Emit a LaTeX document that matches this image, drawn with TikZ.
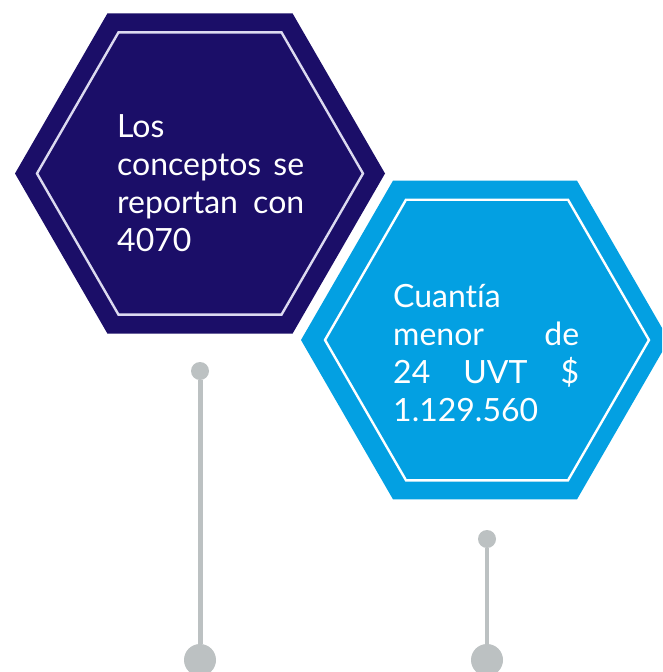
\documentclass[tikz,border=0pt]{standalone}
\usepackage{fontspec}
\setmainfont{Lato}[Ligatures=NoCommon]
\usetikzlibrary{shapes.geometric}
\definecolor{navyhex}{RGB}{27,14,104}
\definecolor{bluehex}{RGB}{3,160,226}
\definecolor{pingray}{RGB}{188,193,194}
\definecolor{lineA}{RGB}{220,218,240}
\tikzset{
  hexfill/.style={regular polygon, regular polygon sides=6, inner sep=0pt, outer sep=0pt, draw=none},
  hexline/.style={regular polygon, regular polygon sides=6, inner sep=0pt, outer sep=0pt, line width=2.4pt},
  hextext/.style={text=white, text width=187pt, align=left, inner sep=0pt, anchor=north west,
                  font=\fontsize{32}{38}\selectfont},
  pinsmall/.style={circle, fill=pingray, minimum size=18pt, inner sep=0pt, outer sep=0pt},
  pinbig/.style={circle, fill=pingray, minimum size=32pt, inner sep=0pt, outer sep=0pt},
  pinline/.style={draw=pingray}
}
\begin{document}
\begin{tikzpicture}[x=1pt,y=-1pt]
\clip (0,0) rectangle (662,672);
\fill[white] (0,0) rectangle (662,672);
% left hexagon
\node[hexfill, fill=navyhex, minimum size=370pt] (hexA) at (200,173.5) {};
\node[hexline, draw=lineA, minimum size=326pt] (hexAin) at (200,173.5) {};
% right hexagon
\node[hexfill, fill=bluehex, minimum size=368pt] (hexB) at (485,340) {};
\node[hexline, draw=white, minimum size=324pt] (hexBin) at (487,340) {};
% texts
\node[hextext] (txtA) at (117,114) {Los\\conceptos\hfill se\\reportan\hfill con\\4070};
\node[hextext, text width=186pt] (txtB) at (393,284) {Cuantía\\menor\hfill de\\24\hfill UVT\hfill \$\\1.129.560};
% pins
\node[pinsmall] (p1t) at (200,371) {};
\node[pinbig] (p1b) at (200,660) {};
\draw[pinline, line width=5pt] (p1t) -- (p1b);
\node[pinsmall] (p2t) at (487,539) {};
\node[pinbig] (p2b) at (487,660) {};
\draw[pinline, line width=4pt] (p2t) -- (p2b);
\end{tikzpicture}
\end{document}
